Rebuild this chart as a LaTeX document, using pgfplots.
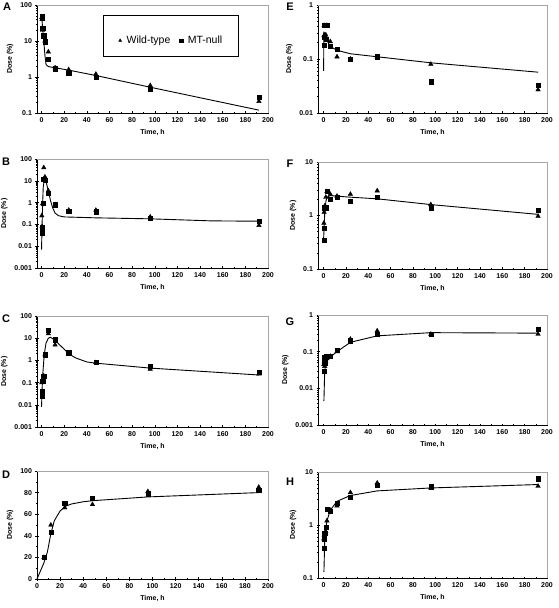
\documentclass[border=0pt]{standalone}
\usepackage{pgfplots}
\pgfplotsset{compat=1.18}
\usepackage{fontspec}
\setmainfont{Liberation Sans}
\pgfplotsset{
  panel/.style={
    scale only axis, axis lines=left, axis line style={-, black, line width=0.6pt},
    xmin=-4, xmax=200, xtick={0,20,...,200},
    xticklabels={0,20,40,60,80,100,120,140,160,180,200},
    minor x tick num=1, tick align=center,
    tick style={black, line width=0.5pt},
    major tick length=3pt, minor tick length=2pt,
    tick label style={font=\fontsize{7}{8}\selectfont\bfseries},
    label style={font=\fontsize{7}{8}\selectfont\bfseries},
    xlabel={Time, h}, ylabel={Dose (\%)},
    clip=false,
    after end axis/.code={\draw[gray!70, line width=0.6pt] (rel axis cs:0,1) -- (rel axis cs:1,1) -- (rel axis cs:1,0);},
  },
  wt/.style={only marks, mark=triangle*, mark size=2.6pt, black},
  mt/.style={only marks, mark=square*, mark size=2.1pt, black},
  fit/.style={no marks, black, line width=0.9pt},
  leftp/.style={panel, width=231pt},
  rightp/.style={panel, width=229pt, xmin=-5},
}
\begin{document}
\begin{tikzpicture}
\useasboundingbox (0,0) rectangle (558pt,608pt);
\tikzset{lett/.style={font=\fontsize{11}{12}\selectfont\bfseries}}
\node[lett] at (7pt,601pt) {A};
\node[lett] at (6pt,446.5pt) {B};
\node[lett] at (6pt,289pt) {C};
\node[lett] at (6pt,133.5pt) {D};
\node[lett] at (290pt,601.5pt) {E};
\node[lett] at (290pt,444.5pt) {F};
\node[lett] at (290pt,286pt) {G};
\node[lett] at (290pt,126pt) {H};

% A
\begin{axis}[leftp, at={(37pt,495pt)}, anchor=south west, height=108pt,
  ymode=log, ymin=0.1, ymax=100, ytick={0.1,1,10,100}, yticklabels={0.1,1,10,100},
  legend columns=2,
  legend style={at={(0.582,0.671)}, anchor=center, draw=none, fill=none,
    inner sep=0pt, font=\fontsize{10.5}{13}\selectfont,
    /tikz/every odd column/.append style={column sep=3pt},
    /tikz/every even column/.append style={column sep=7pt}},
  legend image post style={mark size=1.7pt},
  legend cell align=left,
  after end axis/.append code={\draw[black, line width=0.6pt] (rel axis cs:0.286,0.528) rectangle (rel axis cs:0.870,0.907);}]
\addplot[wt] coordinates {(0.25,45) (0.5,40) (1,20) (2,13) (3,10) (6,5) (12,1.8) (24,1.6) (48,1.2) (96,0.58) (192,0.21)};
\addlegendentry{Wild-type}
\addplot[mt] coordinates {(0.25,48) (0.5,42) (1,23) (2,14) (3,9.5) (6,3.2) (12,1.7) (24,1.25) (48,1.0) (96,0.45) (192,0.28)};
\addlegendentry{MT-null}
\addplot[fit, forget plot] coordinates {(0.25,45) (1,22) (2,10) (3,4) (4,2.2) (6,1.95) (12,1.8) (24,1.55) (48,1.1) (96,0.52) (192,0.12)};
\end{axis}

% B
\begin{axis}[leftp, at={(37pt,340pt)}, anchor=south west, height=109pt,
  ymode=log, ymin=0.001, ymax=100, ytick={0.001,0.01,0.1,1,10,100}, yticklabels={0.001,0.01,0.1,1,10,100}]
\addplot[wt] coordinates {(0.25,0.25) (0.5,0.08) (1,0.9) (2,40) (3,15) (6,3.5) (12,0.8) (24,0.45) (48,0.45) (96,0.22) (192,0.09)};
\addplot[mt] coordinates {(0.25,0.04) (0.5,0.07) (1.5,0.9) (2,12) (3,11) (6,2.8) (12,0.8) (24,0.42) (48,0.38) (96,0.2) (192,0.14)};
\addplot[fit] coordinates {(0,0.007) (0.5,0.1) (1,1) (1.5,5) (2.5,12) (4,9) (6,3.5) (8,1.2) (10,0.55) (12,0.33) (15,0.25) (20,0.22) (48,0.2) (96,0.18) (150,0.145) (192,0.14)};
\end{axis}

% C
\begin{axis}[leftp, at={(37pt,181pt)}, anchor=south west, height=111pt,
  ymode=log, ymin=0.001, ymax=100, ytick={0.001,0.01,0.1,1,10,100}, yticklabels={0.001,0.01,0.1,1,10,100}]
\addplot[wt] coordinates {(0.25,0.1) (0.5,0.12) (1,0.12) (2,0.2) (3,1.8) (6,16) (12,5) (24,2) (48,0.8) (96,0.4) (192,0.25)};
\addplot[mt] coordinates {(0.25,0.025) (0.5,0.04) (1,0.12) (2,0.2) (3,1.8) (6,22) (12,8.5) (24,2.2) (48,0.8) (96,0.55) (192,0.3)};
\addplot[fit] coordinates {(0,0.008) (0.5,0.05) (1,0.2) (2,1) (3,3) (4,6) (6,10) (8,11) (12,8) (18,4) (24,2) (30,1.3) (40,0.85) (48,0.75) (96,0.45) (192,0.22)};
\end{axis}

% D
\begin{axis}[leftp, at={(37pt,29pt)}, anchor=south west, height=108pt, xmin=0,
  ymin=0, ymax=100, ytick={0,20,...,100}, yticklabels={0,20,40,60,80,100}, minor y tick num=1]
\addplot[wt] coordinates {(6,20) (12,50) (24,66) (48,69) (96,81) (192,85)};
\addplot[mt] coordinates {(6,20) (12,43) (24,70) (48,75) (96,79) (192,82)};
\addplot[fit] coordinates {(0,0) (6,15) (9,25) (12,42) (15,54) (20,63) (25,67.5) (30,69.5) (40,71.5) (48,72.5) (96,76) (192,80)};
\end{axis}

% E
\begin{axis}[rightp, at={(318pt,495pt)}, anchor=south west, height=108pt,
  ymode=log, ymin=0.01, ymax=1, ytick={0.01,0.1,1}, yticklabels={0.01,0.1,1}]
\addplot[wt] coordinates {(0.25,0.27) (0.5,0.42) (1,0.28) (2,0.28) (3,0.42) (6,0.21) (12,0.11) (24,0.1) (48,0.11) (96,0.08) (192,0.027)};
\addplot[mt] coordinates {(0.25,0.25) (0.5,0.18) (1,0.42) (2,0.23) (3,0.42) (6,0.17) (12,0.15) (24,0.1) (48,0.11) (96,0.038) (192,0.033)};
\addplot[fit] coordinates {(0,0.06) (0.3,0.3) (1,0.28) (3,0.22) (6,0.17) (12,0.145) (24,0.125) (48,0.11) (96,0.085) (192,0.057)};
\end{axis}

% F
\begin{axis}[rightp, at={(318pt,339pt)}, anchor=south west, height=107pt,
  ymode=log, ymin=0.1, ymax=10, ytick={0.1,1,10}, yticklabels={0.1,1,10}]
\addplot[wt] coordinates {(0.25,0.72) (0.5,1.15) (1,1.5) (2,2.2) (3,2.8) (6,2.5) (12,2.3) (24,2.5) (48,2.9) (96,1.6) (192,0.97)};
\addplot[mt] coordinates {(0.25,0.35) (0.5,0.58) (1,1.4) (2,1.4) (3,2.8) (6,2.0) (12,2.2) (24,1.85) (48,2.2) (96,1.4) (192,1.25)};
\addplot[fit] coordinates {(0,0.35) (1,1.1) (2,1.8) (3,2.2) (6,2.35) (12,2.3) (24,2.2) (48,2.05) (96,1.6) (192,1.05)};
\end{axis}

% G
\begin{axis}[rightp, at={(318pt,183pt)}, anchor=south west, height=110pt,
  ymode=log, ymin=0.001, ymax=1, ytick={0.001,0.01,0.1,1}, yticklabels={0.001,0.01,0.1,1}]
\addplot[wt] coordinates {(0.25,0.045) (0.5,0.05) (1,0.04) (2,0.055) (3,0.065) (6,0.075) (12,0.1) (24,0.22) (48,0.37) (96,0.3) (192,0.3)};
\addplot[mt] coordinates {(0.25,0.07) (0.5,0.03) (1,0.05) (2,0.075) (3,0.075) (6,0.075) (12,0.11) (24,0.2) (48,0.3) (96,0.3) (192,0.4)};
\addplot[fit] coordinates {(0.3,0.0045) (1,0.03) (2,0.05) (4,0.065) (8,0.08) (12,0.1) (24,0.18) (48,0.27) (96,0.33) (192,0.32)};
\end{axis}

% H
\begin{axis}[rightp, at={(318pt,30pt)}, anchor=south west, height=106pt,
  ymode=log, ymin=0.1, ymax=10, ytick={0.1,1,10}, yticklabels={0.1,1,10}]
\addplot[wt] coordinates {(0.25,0.55) (0.5,0.65) (1,0.7) (2,0.75) (3,1.2) (6,1.9) (12,2.3) (24,4.1) (48,6.2) (96,5.0) (192,5.4)};
\addplot[mt] coordinates {(0.25,0.37) (0.5,0.55) (1,0.7) (2,0.9) (3,2.0) (6,1.8) (12,2.6) (24,3.3) (48,5.7) (96,5.3) (192,7.5)};
\addplot[fit] coordinates {(0.3,0.13) (1,0.5) (2,0.85) (3,1.2) (6,1.9) (12,2.8) (24,3.6) (48,4.4) (96,5.0) (192,5.8)};
\end{axis}
\end{tikzpicture}
\end{document}
